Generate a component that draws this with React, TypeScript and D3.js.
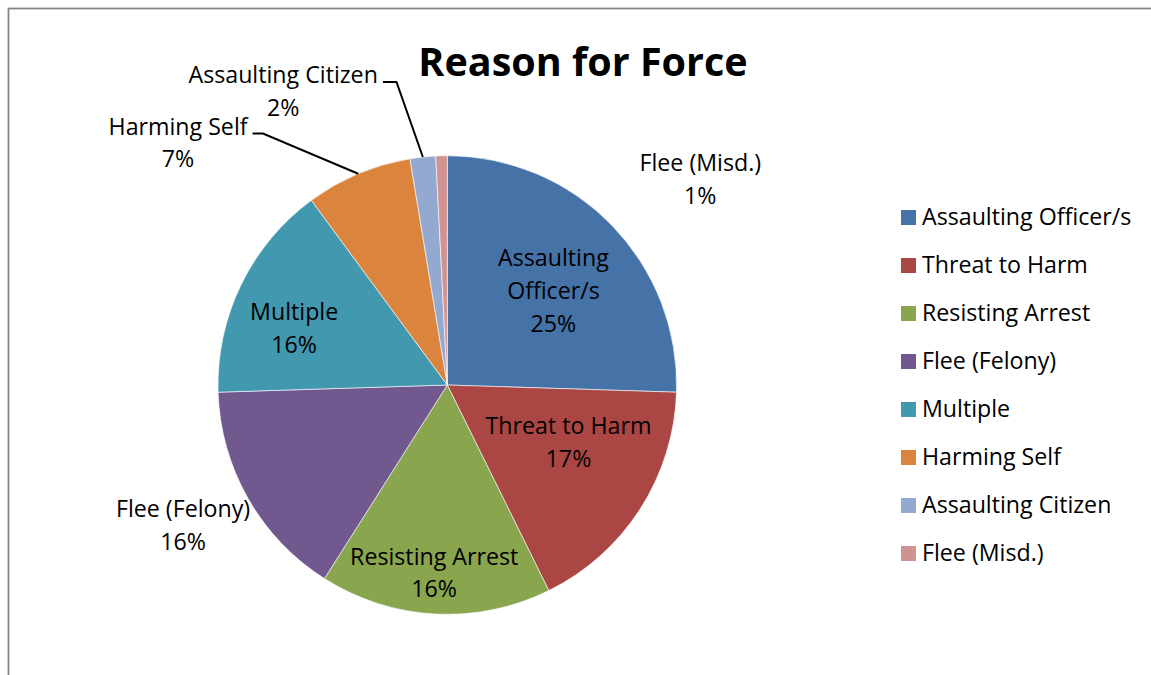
import React from "react";
import * as d3 from "d3";

// ---- data ----
const categories = [
  "Assaulting Officer/s",
  "Threat to Harm",
  "Resisting Arrest",
  "Flee (Felony)",
  "Multiple",
  "Harming Self",
  "Assaulting Citizen",
  "Flee (Misd.)",
];
const values = [25.5, 17.2, 16.3, 15.5, 15.4, 7.5, 1.8, 0.8];
const percentLabels = ["25%", "17%", "16%", "16%", "16%", "7%", "2%", "1%"];
const labelLines = [
  ["Assaulting", "Officer/s"],
  ["Threat to Harm"],
  ["Resisting Arrest"],
  ["Flee (Felony)"],
  ["Multiple"],
  ["Harming Self"],
  ["Assaulting Citizen"],
  ["Flee (Misd.)"],
];
const colors = ["#4572A7", "#AA4643", "#89A54E", "#71588F", "#4198AF", "#DB843D", "#93A9CF", "#D19392"];
const title = "Reason for Force";

// ---- layout (label anchors in polar form around the pie centre: degrees clockwise from top, radius factor) ----
const labelPolar: [number, number][] = [
  [48.3, 0.62],
  [115.2, 0.584],
  [184, 0.82],
  [242.1, 1.304],
  [290.3, 0.712],
  [312, 1.58],
  [330.8, 1.467],
  [50.8, 1.424],
];
// leader elbows (index -> [elbow x, y, text end x])
const leaders: Record<number, [number, number, number]> = {
  5: [263, 133.5, 252.5],
  6: [396.5, 82, 383],
};

const W = 1151;
const H = 675;
const cx = 447.3;
const cy = 385;
const R = 229.3;
const FONT = "'Open Sans', 'DejaVu Sans', sans-serif";
const FS = 23.2;
const LH = 32.8;

export default function App() {
  const pie = d3.pie<number>().sort(null).value((d) => d);
  const arcs = pie(values);
  const arcGen = d3.arc<d3.PieArcDatum<number>>().innerRadius(0).outerRadius(R);

  return (
    <svg width={W} height={H} style={{ position: "absolute", left: 0, top: 0, background: "#fff" }}>
      <rect x={8.5} y={8.5} width={1300} height={800} fill="#fff" stroke="#868686" strokeWidth={1.8} />
      <text x={583} y={76} textAnchor="middle" fontFamily={FONT} fontWeight={700} fontSize={39.5} fill="#000">
        {title}
      </text>
      <g transform={`translate(${cx},${cy})`}>
        {arcs.map((a, i) => (
          <path key={i} d={arcGen(a) || ""} fill={colors[i]} stroke="#ffffff" strokeWidth={0.6} />
        ))}
      </g>
      {/* leader lines */}
      {arcs.map((a, i) => {
        const l = leaders[i];
        if (!l) return null;
        const mid = (a.startAngle + a.endAngle) / 2;
        const px = cx + R * Math.sin(mid);
        const py = cy - R * Math.cos(mid);
        return (
          <polyline
            key={"l" + i}
            points={`${l[2]},${l[1]} ${l[0]},${l[1]} ${px},${py}`}
            fill="none"
            stroke="#000"
            strokeWidth={2}
          />
        );
      })}
      {/* data labels */}
      {arcs.map((a, i) => {
        const [deg, k] = labelPolar[i];
        const ang = (deg * Math.PI) / 180;
        const x = cx + k * R * Math.sin(ang);
        const y = cy - k * R * Math.cos(ang);
        const lines = [...labelLines[i], percentLabels[i]];
        const top = y - ((lines.length - 1) * LH) / 2;
        return (
          <text key={"t" + i} textAnchor="middle" fontFamily={FONT} fontSize={FS} fill="#000">
            {lines.map((s, j) => (
              <tspan key={j} x={x} y={top + j * LH + 8.5}>
                {s}
              </tspan>
            ))}
          </text>
        );
      })}
      {/* legend */}
      {categories.map((c, i) => {
        const yc = 217.5 + i * 48;
        return (
          <g key={"g" + i}>
            <rect x={901} y={yc - 7.5} width={15} height={15} fill={colors[i]} />
            <text x={922} y={yc + 7.5} fontFamily={FONT} fontSize={FS} fill="#000">
              {c}
            </text>
          </g>
        );
      })}
    </svg>
  );
}
